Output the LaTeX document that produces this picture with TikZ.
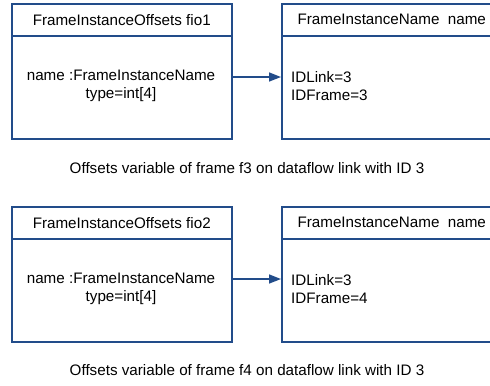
\documentclass[tikz,border=0pt]{standalone}
\usepackage{fontspec}
\setmainfont{Liberation Sans}
\usetikzlibrary{arrows.meta}
\definecolor{umlblue}{RGB}{34,76,138}
\begin{document}
\begin{tikzpicture}[x=1bp,y=-1bp,
  box/.style={draw=umlblue,line width=1.5bp,minimum width=220bp,inner sep=0pt,anchor=north west},
  lbl/.style={font=\fontsize{15.2bp}{18.5bp}\selectfont,inner sep=0pt},
  link/.style={draw=umlblue,line width=1.5bp,-{Triangle[length=12bp,width=9bp]}}]
\useasboundingbox (0,0) rectangle (490,385);
\clip (0,0) rectangle (490,385);
% top group
\node[box,minimum height=32bp] (h1) at (11,3) {};
\node[box,minimum height=103bp] (b1) at (11,35) {};
\node[box,minimum height=32bp] (h2) at (281,3) {};
\node[box,minimum height=103bp] (b2) at (281,35) {};
\node[lbl] (t1) at (h1.center) {FrameInstanceOffsets fio1};
\node[lbl] (t2) at (h2.center) {FrameInstanceName\ \ name};
\node[lbl,align=center] (c1) at (121,86) {name :FrameInstanceName\\type=int[4]};
\node[lbl,align=left,anchor=west] (c2) at (291,86) {IDLink=3\\IDFrame=3};
\draw[link] (b1.east |- 0,77) -- (b2.west |- 0,77);
\node[lbl] (cap1) at (247,168) {Offsets variable of frame f3 on dataflow link with ID 3};
% bottom group
\node[box,minimum height=32bp] (h3) at (11,206) {};
\node[box,minimum height=103bp] (b3) at (11,238) {};
\node[box,minimum height=32bp] (h4) at (281,206) {};
\node[box,minimum height=103bp] (b4) at (281,238) {};
\node[lbl] (t3) at (h3.center) {FrameInstanceOffsets fio2};
\node[lbl] (t4) at (h4.center) {FrameInstanceName\ \ name};
\node[lbl,align=center] (c3) at (121,289) {name :FrameInstanceName\\type=int[4]};
\node[lbl,align=left,anchor=west] (c4) at (291,289) {IDLink=3\\IDFrame=4};
\draw[link] (b3.east |- 0,279) -- (b4.west |- 0,279);
\node[lbl] (cap2) at (247,370) {Offsets variable of frame f4 on dataflow link with ID 3};
\end{tikzpicture}
\end{document}
